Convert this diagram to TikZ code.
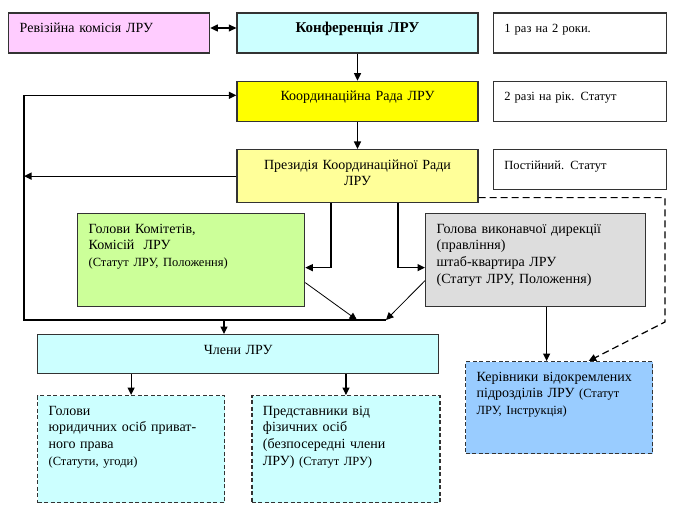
\documentclass[tikz,border=0pt]{standalone}
\usepackage{fontspec}
\setmainfont{Liberation Serif}
\usetikzlibrary{arrows.meta, positioning}

\definecolor{revc}{HTML}{FFCCFF}
\definecolor{confc}{HTML}{CCFFFF}
\definecolor{counc}{HTML}{FFFF00}
\definecolor{presc}{HTML}{FFFF99}
\definecolor{commc}{HTML}{CCFF99}
\definecolor{dirc}{HTML}{DDDDDD}
\definecolor{mgrc}{HTML}{99CCFF}
\definecolor{edgec}{HTML}{333333}

\newcommand{\smalltxt}{\fontsize{12.5}{16.7}\selectfont}

\begin{document}
\begin{tikzpicture}[
    x=1pt, y=-1pt,
    every node/.style={font=\fontsize{14}{16.7}\selectfont},
    box/.style={rectangle, draw=edgec, line width=1.3pt, inner xsep=11pt, inner ysep=4pt, text height=15.5pt, align=left},
    onerow/.style={box, text depth=16.5pt},
    note/.style={onerow, fill=white, text width=151pt, font=\fontsize{12.5}{15}\selectfont},
    dbox/.style={box, dash pattern=on 4pt off 2.5pt},
    flow/.style={line width=1.2pt},
    slant/.style={line width=0.8pt},
    >={Triangle[length=7.5pt, width=7pt]},
]
\useasboundingbox[fill=white] (0,0) rectangle (700,516);

% Top column
\node[onerow, fill=confc, text width=219pt, align=center, font=\fontsize{15}{16.7}\selectfont\bfseries] (conf) at (357.5,33) {Конференція ЛРУ};
\node[onerow, fill=revc, text width=179pt, left=26pt of conf] (rev) {Ревізійна комісія ЛРУ};
\node[note, right=14pt of conf] (n1) {1 раз на 2 роки.};
\node[onerow, fill=counc, text width=219pt, align=center, below=27pt of conf] (coun) {Координаційна Рада ЛРУ};
\node[note, right=14pt of coun] (n2) {2 разі на рік. Статут};
\node[box, fill=presc, text width=219pt, text depth=29.5pt, align=center, below=27pt of coun] (pres) {Президія Координаційної Ради\\ЛРУ};
\node[note, below right=0pt and 14pt of pres.north east] (n3) {Постійний. Статут};

% Middle row
\node[box, fill=commc, text width=205pt, text depth=69.5pt, anchor=north west] (comm) at (77,213) {Голови Комітетів,\\Комісій\ \ ЛРУ\\{\smalltxt (Статут ЛРУ, Положення)}};
\node[box, fill=dirc, text width=198pt, text depth=69.5pt, anchor=north west] (dir) at (425,213) {Голова виконавчої дирекції\\(правління)\\штаб-квартира ЛРУ\\(Статут ЛРУ, Положення)};

% Bottom rows
\node[box, fill=confc, text width=379pt, text depth=15.5pt, align=center, anchor=north west] (memb) at (37,334) {Члени ЛРУ};
\node[dbox, fill=mgrc, text width=165pt, text depth=68.5pt, anchor=north west] (mgr) at (465,361) {Керівники відокремлених\\підрозділів ЛРУ {\smalltxt(Статут}\\{\smalltxt ЛРУ, Інструкція)}};
\node[dbox, fill=confc, text width=165pt, text depth=83.5pt, anchor=north west] (legal) at (37,395) {Голови\\юридичних осіб приват-\\ного права\\{\smalltxt(Статути, угоди)}};
\node[dbox, fill=confc, text width=166pt, text depth=83.5pt, right=26pt of legal] (indiv) {Представники від\\фізичних осіб\\(безпосередні члени\\ЛРУ) {\smalltxt(Статут ЛРУ)}};

% Junction points
\coordinate (lb) at (24,320);
\coordinate (rb) at (386,320);
\coordinate (mj) at (224,320);
\coordinate (cj) at (357,320);
\coordinate (dc) at (665,322);

% Vertical flow
\draw[flow, <->] ([yshift=5pt]rev.east) -- ([yshift=5pt]conf.west);
\draw[flow, ->] (conf) -- (coun);
\draw[flow, ->] (coun) -- (pres);
\draw[flow, ->] ([xshift=-26.5pt]pres.south) |- ([yshift=-7.5pt]comm.east);
\draw[flow, ->] ([xshift=40.5pt]pres.south) |- ([yshift=-7.5pt]dir.west);
\draw[flow, ->] ([xshift=11pt]dir.south) -- ([xshift=11pt]dir.south |- mgr.north);

% Feedback loop on the left
\draw[flow, ->] (rb) -- (lb) |- ([yshift=6pt]coun.west);
\draw[flow, ->] (pres) -- (pres -| lb);
\draw[slant, ->] ([yshift=-22.5pt]comm.east) -- (cj);
\draw[slant, ->] ([yshift=-20.5pt]dir.west) -- (rb);
\draw[flow, ->] (mj) -- (mj |- memb.north);

% Members split
\draw[flow, ->] (memb.south -| legal.north) -- (legal);
\draw[flow, ->] (memb.south -| indiv.north) -- (indiv);

% Dashed link to the branch heads
\draw[flow, ->, dash pattern=on 7pt off 4pt] ([yshift=-21.5pt]pres.east) -| (dc) -- ([xshift=29.5pt]mgr.north);

\end{tikzpicture}
\end{document}
